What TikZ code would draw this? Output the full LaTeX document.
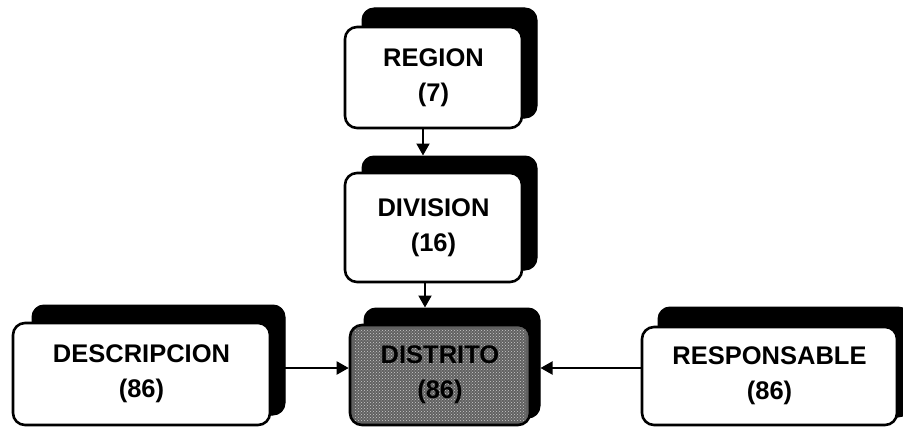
\documentclass[tikz,border=0pt]{standalone}
\usepackage{fontspec}
\setmainfont{Liberation Sans}
\usetikzlibrary{arrows.meta,patterns}
\begin{document}
\begin{tikzpicture}[x=1pt,y=-1pt,
  boxfont/.style={font=\fontsize{25.5}{35}\selectfont\bfseries},
  shadowbox/.style={rectangle,rounded corners=12pt,fill=black,draw=black,line width=1pt,inner sep=0pt},
  frontbox/.style={rectangle,rounded corners=12pt,fill=white,draw=black,line width=2.6pt,inner sep=0pt,
     align=center,boxfont},
  darkbox/.style={frontbox,fill=black!62},
  arr/.style={line width=2pt,-{Triangle[length=12pt,width=13pt]}},
  conn/.style={line width=2pt}]
\useasboundingbox (0,0) rectangle (903,428);
% REGION
\node[shadowbox,minimum width=175pt,minimum height=110pt] (regionS) at (449.5,63) {};
\node[frontbox,minimum width=177pt,minimum height=101pt] (region) at (433.5,77.5) {REGION\\(7)};
% DIVISION
\node[shadowbox,minimum width=175pt,minimum height=114pt] (divS) at (449.5,213) {};
\node[frontbox,minimum width=177pt,minimum height=109pt] (div) at (433.5,227.5) {DIVISION\\(16)};
% DISTRITO
\node[shadowbox,minimum width=176pt,minimum height=110pt] (disS) at (452,363) {};
\node[darkbox,minimum width=180pt,minimum height=100pt] (dis) at (440,375) {};
\fill[pattern=crosshatch dots,pattern color=white!80!black] ([shift={(6,6)}]dis.north west) rectangle ([shift={(-6,-6)}]dis.south east);
\node[align=center,boxfont,text=black] (distxt) at (dis.center) {DISTRITO\\(86)};
% DESCRIPCION
\node[shadowbox,minimum width=253pt,minimum height=110pt] (desS) at (158.5,360) {};
\node[frontbox,minimum width=257pt,minimum height=102pt] (des) at (141.5,374) {DESCRIPCION\\(86)};
% RESPONSABLE
\node[shadowbox,minimum width=252pt,minimum height=110pt] (resS) at (784,362) {};
\node[frontbox,minimum width=255pt,minimum height=98pt] (res) at (769.5,376) {RESPONSABLE\\(86)};
% connectors
\draw[arr] ([xshift=-10.5]region.south) -- ([xshift=-10.5]region.south |- divS.north);
\draw[arr] ([xshift=-8.5]div.south) -- ([xshift=-8.5]div.south |- disS.north);
\draw[arr] (des.east |- 0,368) -- (dis.west |- 0,368);
\draw[arr] (res.west |- 0,368) -- (disS.east |- 0,368);
\end{tikzpicture}
\end{document}
